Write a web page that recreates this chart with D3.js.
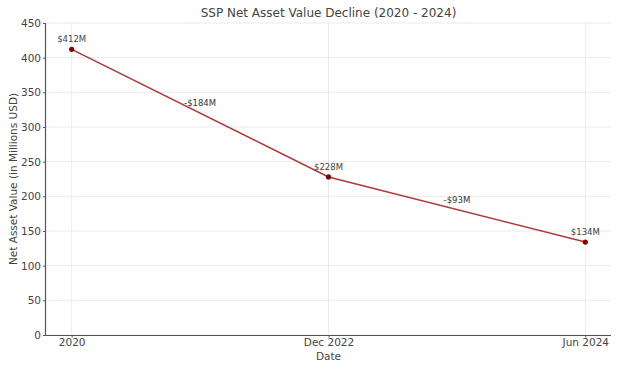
<!DOCTYPE html>
<html><head><meta charset="utf-8">
<script src="https://cdn.jsdelivr.net/npm/d3@7"></script>
<style>body{margin:0;background:#fff;font-family:"DejaVu Sans",sans-serif;}</style>
</head><body>
<svg id="chart" width="624" height="373"></svg>
<script>
const categories = ["2020", "Dec 2022", "Jun 2024"];
const values = [412, 228, 134];
const changes = ["-$184M", "-$93M"];
const valueLabels = ["$412M", "$228M", "$134M"];
const yTicks = [0, 50, 100, 150, 200, 250, 300, 350, 400, 450];

const svg = d3.select("#chart");
const m = {left: 46, right: 13, top: 23, bottom: 38};
const W = 624, H = 373;
const x = d3.scalePoint().domain(categories).range([m.left, W - m.right]).padding(0.1);
const y = d3.scaleLinear().domain([0, 450]).range([H - m.bottom, m.top]);

const axisColor = "#555", textColor = "#444";

// grid
svg.append("g").selectAll("line").data(yTicks).join("line")
  .attr("x1", m.left).attr("x2", W - m.right)
  .attr("y1", d => y(d)).attr("y2", d => y(d))
  .attr("stroke", "#e6e6e6").attr("stroke-width", 0.8);
svg.append("g").selectAll("line").data(categories).join("line")
  .attr("x1", d => x(d)).attr("x2", d => x(d))
  .attr("y1", m.top).attr("y2", H - m.bottom)
  .attr("stroke", "#e6e6e6").attr("stroke-width", 0.8);

// axes
const yAxis = svg.append("g").attr("transform", `translate(${m.left},0)`)
  .call(d3.axisLeft(y).tickValues(yTicks).tickSize(3).tickPadding(2));
const xAxis = svg.append("g").attr("transform", `translate(0,${H - m.bottom})`)
  .call(d3.axisBottom(x).tickSize(2.5).tickPadding(1));
xAxis.select(".domain").attr("d", `M${m.left},0.5H${W - m.right}`);
yAxis.select(".domain").attr("d", `M-0.5,${m.top}V${H - m.bottom}`);
[xAxis, yAxis].forEach(a => {
  a.select(".domain").attr("stroke", axisColor).attr("stroke-width", 1.2);
  a.selectAll(".tick line").attr("stroke", axisColor);
  a.selectAll("text").attr("fill", textColor).attr("font-size", 10.5).attr("font-family", "DejaVu Sans");
});

// line
const line = d3.line().x((d, i) => x(categories[i])).y(d => y(d));
svg.append("path").datum(values).attr("d", line)
  .attr("fill", "none").attr("stroke", "#b03a3a").attr("stroke-width", 1.6);
svg.append("g").selectAll("circle").data(values).join("circle")
  .attr("cx", (d, i) => x(categories[i])).attr("cy", d => y(d)).attr("r", 2.6)
  .attr("fill", "#8b0000");

// value labels
svg.append("g").selectAll("text").data(values).join("text")
  .attr("x", (d, i) => x(categories[i])).attr("y", d => y(d) - 7)
  .attr("text-anchor", "middle").attr("font-size", 8.5).attr("fill", textColor)
  .text((d, i) => valueLabels[i]);

// change labels
svg.append("g").selectAll("text").data(changes).join("text")
  .attr("x", (d, i) => (x(categories[i]) + x(categories[i + 1])) / 2)
  .attr("y", (d, i) => y((values[i] + values[i + 1]) / 2) - 7)
  .attr("text-anchor", "middle").attr("font-size", 8.5).attr("fill", "#333")
  .text(d => d);

// title and axis labels
svg.append("text").attr("x", (m.left + W - m.right) / 2).attr("y", 17)
  .attr("text-anchor", "middle").attr("font-size", 12).attr("fill", textColor)
  .text("SSP Net Asset Value Decline (2020 - 2024)");
svg.append("text").attr("x", (m.left + W - m.right) / 2).attr("y", 360)
  .attr("text-anchor", "middle").attr("font-size", 10.5).attr("fill", textColor)
  .text("Date");
svg.append("text").attr("transform", `translate(17,${(m.top + H - m.bottom) / 2}) rotate(-90)`)
  .attr("text-anchor", "middle").attr("font-size", 10.5).attr("fill", textColor)
  .text("Net Asset Value (in Millions USD)");
</script>
</body></html>
